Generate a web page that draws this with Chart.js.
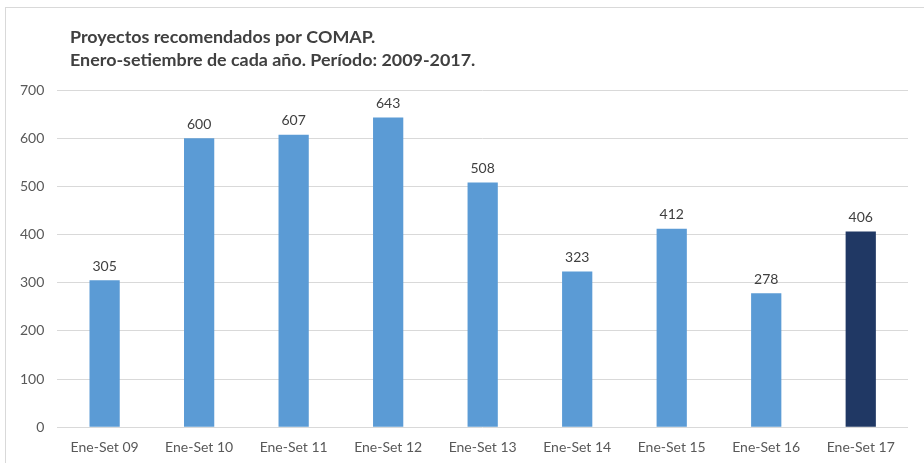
<!DOCTYPE html>
<html>
<head>
<meta charset="utf-8">
<script src="https://cdn.jsdelivr.net/npm/chart.js@4.4.0/dist/chart.umd.min.js"></script>
<style>
  html, body { margin: 0; padding: 0; background: #fff; }
  #wrap { position: relative; width: 924px; height: 463px; overflow: hidden; }
  #frame { position: absolute; left: 5px; top: 7px; width: 940px; height: 470px; border: 1px solid #d9d9d9; box-sizing: border-box; }
  canvas { position: absolute; left: 0; top: 0; }
</style>
</head>
<body>
<div id="wrap">
  <div id="frame"></div>
  <canvas id="chart" width="924" height="468"></canvas>
</div>
<script>
// chart data
const titleLines = ['Proyectos recomendados por COMAP.', 'Enero-setiembre de cada año. Período: 2009-2017.'];
const categories = ['Ene-Set 09', 'Ene-Set 10', 'Ene-Set 11', 'Ene-Set 12', 'Ene-Set 13', 'Ene-Set 14', 'Ene-Set 15', 'Ene-Set 16', 'Ene-Set 17'];
const projects = [305, 600, 607, 643, 508, 323, 412, 278, 406];
const barColors = ['#5b9bd5', '#5b9bd5', '#5b9bd5', '#5b9bd5', '#5b9bd5', '#5b9bd5', '#5b9bd5', '#5b9bd5', '#203864'];

const FONT = 'Lato, "Open Sans", sans-serif';

// title + value labels drawn on top of the chart
const extras = {
    id: 'extras',
    afterDatasetsDraw(chart) {
        const c = chart.ctx;
        c.save();
        c.fillStyle = '#404040';
        c.font = 'bold 17.9px ' + FONT;
        c.textAlign = 'left';
        c.textBaseline = 'alphabetic';
        titleLines.forEach((t, i) => c.fillText(t, 70, 43 + i * 23));

        c.font = '14px ' + FONT;
        c.textAlign = 'center';
        c.textBaseline = 'bottom';
        const meta = chart.getDatasetMeta(0);
        meta.data.forEach((bar, i) => {
            c.fillText(projects[i], bar.x, bar.y - 7);
        });
        c.restore();
    }
};

const ctx = document.getElementById('chart').getContext('2d');
const chart = new Chart(ctx, {
    type: 'bar',
    data: {
        labels: categories,
        datasets: [{
            data: projects,
            backgroundColor: barColors,
            categoryPercentage: 1,
            barPercentage: 0.32
        }]
    },
    options: {
        responsive: false,
        animation: false,
        layout: { padding: { left: 7, right: 16, top: 90, bottom: 0 } },
        plugins: { legend: { display: false }, tooltip: { enabled: false } },
        scales: {
            x: {
                grid: { display: false, drawTicks: false },
                border: { display: false },
                ticks: { color: '#595959', font: { family: FONT, size: 14 }, padding: 12 }
            },
            y: {
                min: 0,
                max: 700,
                ticks: { stepSize: 100, color: '#595959', font: { family: FONT, size: 14 }, padding: 13 },
                grid: { color: '#d9d9d9', drawTicks: false },
                border: { display: false }
            }
        }
    },
    plugins: [extras]
});
</script>
</body>
</html>
